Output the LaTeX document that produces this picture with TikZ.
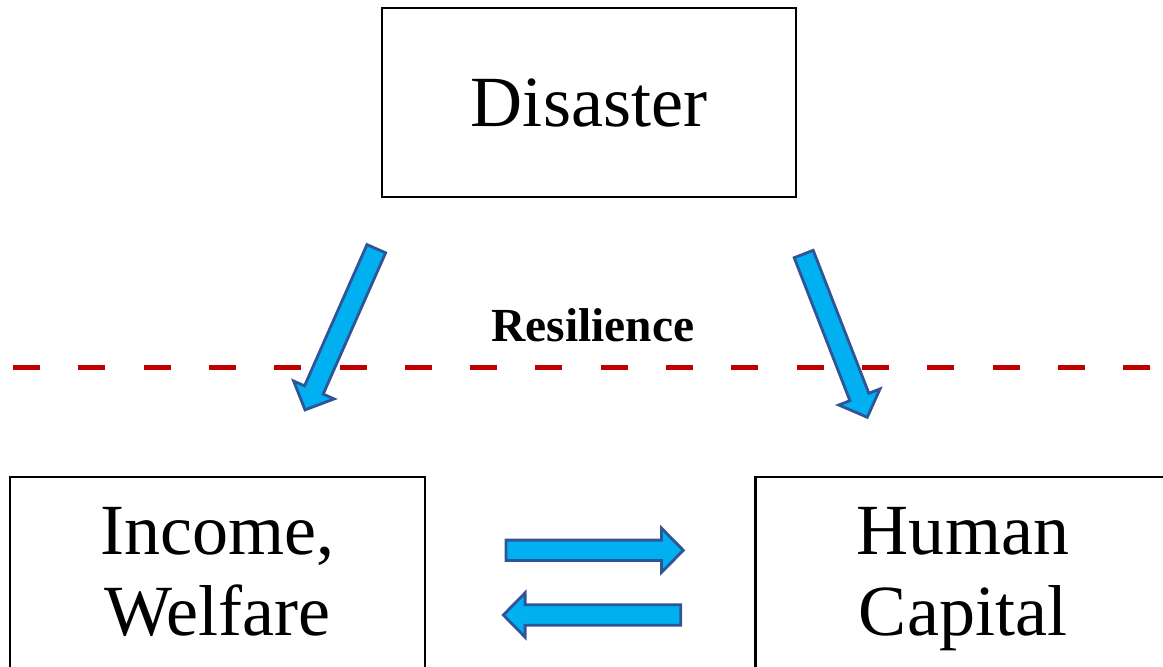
\documentclass[tikz,border=0pt]{standalone}
\usepackage{fontspec}
\setmainfont{Liberation Serif}
\usetikzlibrary{calc}
\definecolor{arrowfill}{HTML}{00B0F0}
\definecolor{arrowedge}{HTML}{2F5597}
\definecolor{resred}{HTML}{C00000}
\begin{document}
\begin{tikzpicture}[
  box/.style={rectangle, draw, line width=0.7pt, minimum width=4.15cm, inner sep=0pt, align=center, font=\fontsize{20.5}{22.8}\selectfont, text depth=0pt},
  fat/.style={draw=arrowedge, fill=arrowfill, line width=0.8pt, line join=miter,
    to path={let \p1=($(\tikztotarget)-(\tikztostart)$), \n1={atan2(\y1,\x1)}, \n2={veclen(\x1,\y1)} in
      [shift={(\tikztostart)}, rotate=\n1]
      (0pt,-2.9pt) -- ({\n2*1pt-6.2pt},-2.9pt) -- ({\n2*1pt-6.2pt},-6.3pt) -- ({\n2*1pt},0pt)
      -- ({\n2*1pt-6.2pt},6.3pt) -- ({\n2*1pt-6.2pt},2.9pt) -- (0pt,2.9pt) -- cycle}}
]
  \useasboundingbox (0,0) rectangle (11.63,-6.66);
  \clip (0,0) rectangle (11.63,-6.66);
  % Boxes
  \node[box, minimum width=4.14cm, minimum height=1.89cm, text height=13.6pt] (D) at (5.89,-1.025) {Disaster};
  \node[box, minimum height=2.0cm, text height=36.4pt, text depth=3.4pt] (I) at (2.175,-5.77) {Income,\\Welfare};
  \node[box, minimum height=2.0cm, text height=36.4pt, text depth=3.4pt] (H) at (9.63,-5.77) {Human\\Capital};
  % Resilience line
  \coordinate (L0) at (0.13,-3.677);
  \coordinate (L1) at (11.63,-3.677);
  \draw[resred, line width=1.5pt, dash pattern=on 0.27cm off 0.383cm] (L0) -- (L1);
  \node[font=\bfseries\fontsize{13.5}{15}\selectfont, anchor=base] (R) at (5.93,-3.41) {Resilience};
  % Block arrows
  \coordinate (a1) at (3.763,-2.487);
  \coordinate (b1) at (3.05,-4.10);
  \coordinate (a2) at (8.037,-2.54);
  \coordinate (b2) at (8.673,-4.173);
  \coordinate (a3) at (5.06,-5.503);
  \coordinate (b3) at (6.833,-5.503);
  \coordinate (a4) at (6.807,-6.15);
  \coordinate (b4) at (5.033,-6.15);
  \draw[fat] (a1) to (b1);
  \draw[fat] (a2) to (b2);
  \draw[fat] (a3) to (b3);
  \draw[fat] (a4) to (b4);
\end{tikzpicture}
\end{document}
